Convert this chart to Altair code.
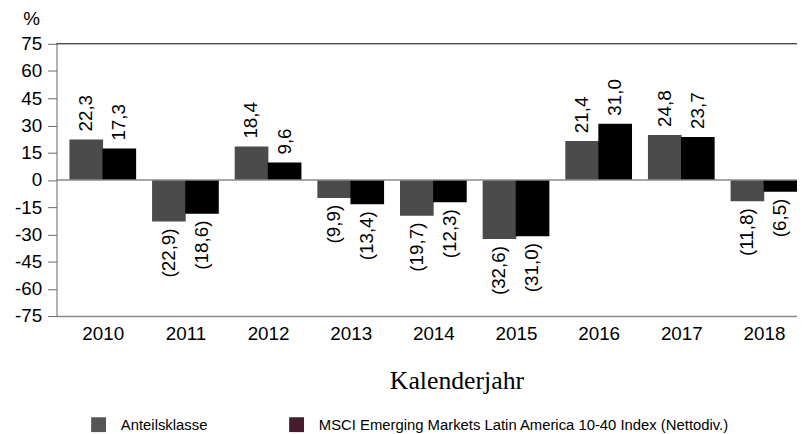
import altair as alt
import pandas as pd

years = [2010, 2011, 2012, 2013, 2014, 2015, 2016, 2017, 2018]
series_names = ["Anteilsklasse", "MSCI Emerging Markets Latin America 10-40 Index (Nettodiv.)"]
fund = [22.3, -22.9, 18.4, -9.9, -19.7, -32.6, 21.4, 24.8, -11.8]
index = [17.3, -18.6, 9.6, -13.4, -12.3, -31.0, 31.0, 23.7, -6.5]
y_ticks = [-75, -60, -45, -30, -15, 0, 15, 30, 45, 60, 75]

bar_colors = ["#4b4b4b", "#000000"]
legend_colors = ["#555555", "#461b2b"]


def fmt(v):
    s = f"{abs(v):.1f}".replace(".", ",")
    return f"({s})" if v < 0 else s


rows = []
for i, y in enumerate(years):
    for name, vals, off in [(series_names[0], fund, -0.2), (series_names[1], index, 0.2)]:
        v = vals[i]
        rows.append({"year": y, "series": name, "value": v, "pos": y + off, "label": fmt(v)})
df = pd.DataFrame(rows)

FONT = "Liberation Sans"

x_scale = alt.Scale(domain=[2009.5, 2018.34], nice=False, zero=False)
y_scale = alt.Scale(domain=[-75, 75], nice=False)

x_enc = alt.X(
    "pos:Q",
    scale=x_scale,
    axis=alt.Axis(
        values=years,
        tickCount=len(years),
        format="d",
        ticks=False,
        grid=False,
        domainColor="#8a8a8a",
        domainWidth=1.5,
        labelFont=FONT,
        labelFontSize=19,
        labelColor="#000000",
        labelPadding=9,
        labelFlush=False,
        labelOverlap=False,
        title="Kalenderjahr",
        titleFont="Liberation Serif",
        titleFontSize=26,
        titleFontWeight="normal",
        titleColor="#000000",
        titleX=404,
        titleY=73,
        titleAlign="center",
        titleBaseline="alphabetic",
    ),
)
y_enc = alt.Y(
    "value:Q",
    scale=y_scale,
    axis=alt.Axis(
        values=y_ticks,
        tickCount=len(y_ticks),
        labelExpr="datum.value < 0 ? '-' + abs(datum.value) : '' + datum.value",
        grid=False,
        domainColor="#666666",
        tickColor="#666666",
        tickSize=9,
        labelPadding=6,
        labelOverlap=False,
        labelBound=False,
        labelFont=FONT,
        labelFontSize=19,
        labelColor="#000000",
        title="%",
        titleAngle=0,
        titleFont=FONT,
        titleFontSize=19,
        titleFontWeight="normal",
        titleColor="#000000",
        titleX=-34,
        titleY=-19,
        titleAlign="left",
        titleBaseline="alphabetic",
    ),
)

base = alt.Chart(df)

legend_layer = base.mark_bar(clip=True, size=34, opacity=0).encode(
    x=x_enc,
    y=y_enc,
    fill=alt.Fill(
        "series:N",
        scale=alt.Scale(domain=series_names, range=legend_colors),
        legend=alt.Legend(
            title=None,
            orient="none",
            legendX=35,
            legendY=377,
            direction="horizontal",
            symbolType="square",
            symbolSize=225,
            symbolStrokeWidth=0,
            symbolOpacity=1,
            labelFont=FONT,
            labelFontSize=15,
            labelColor="#000000",
            labelOffset=15,
            labelLimit=600,
            columnPadding=82,
        ),
    ),
)

bars = base.mark_bar(clip=True, size=34).encode(
    x="pos:Q",
    y="value:Q",
    color=alt.Color(
        "series:N",
        scale=alt.Scale(domain=series_names, range=bar_colors),
        legend=None,
    ),
)

pos_labels = base.transform_filter(alt.datum.value >= 0).mark_text(
    angle=270, align="left", baseline="middle", dx=8, font=FONT, fontSize=19, color="#000000"
).encode(x="pos:Q", y="value:Q", text="label:N")

neg_labels = base.transform_filter(alt.datum.value < 0).mark_text(
    angle=270, align="right", baseline="middle", dx=-7, font=FONT, fontSize=19, color="#000000"
).encode(x="pos:Q", y="value:Q", text="label:N")

ref_df = pd.DataFrame({"v": [0]})
zero_rule = alt.Chart(ref_df).mark_rule(color="#8a8a8a", strokeWidth=1.5).encode(y=alt.datum(0))
top_rule = alt.Chart(ref_df).mark_rule(color="#000000", strokeWidth=1).encode(y=alt.datum(75))

chart = (
    alt.layer(legend_layer, bars, zero_rule, top_rule, pos_labels, neg_labels)
    .properties(
        width=748,
        height=275,
        autosize="none",
        padding={"left": 49, "top": 34, "right": 0, "bottom": 117},
    )
    .configure_view(stroke=None)
)

chart.save("out.html", embed_options={"renderer": "svg", "actions": False})
